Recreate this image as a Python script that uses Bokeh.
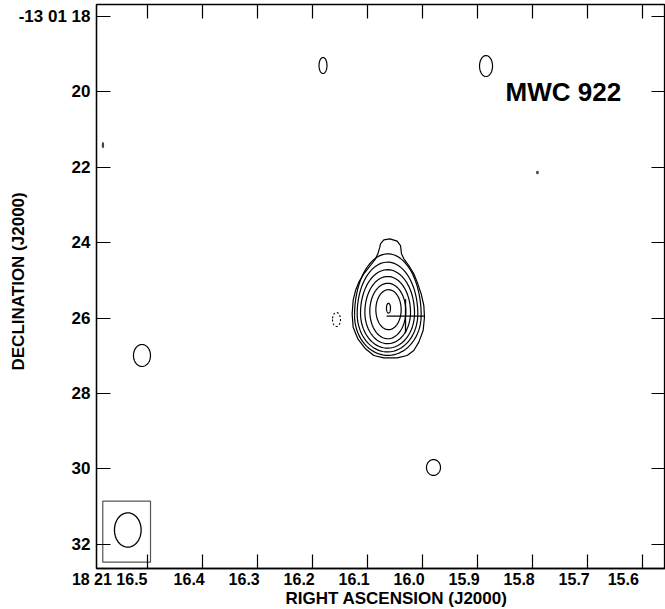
import numpy as np
from bokeh.plotting import figure
from bokeh.models import Range1d, FixedTicker, LinearAxis, Title, Label
from bokeh.embed import file_html
from bokeh.resources import INLINE

# ---- axis ticks / labels ----
ra_ticks = [16.5, 16.4, 16.3, 16.2, 16.1, 16.0, 15.9, 15.8, 15.7, 15.6]
ra_labels = ["18 21 16.5", "16.4", "16.3", "16.2", "16.1", "16.0", "15.9", "15.8", "15.7", "15.6"]
dec_ticks = [18, 20, 22, 24, 26, 28, 30, 32]
dec_labels = ["-13 01 18", "20", "22", "24", "26", "28", "30", "32"]

# ---- outermost contour of the source (RA seconds, Dec arcsec) ----
outer_ra = [16.0764, 16.0703, 16.0594, 16.0461, 16.0400, 16.0382, 16.0339, 16.0249,
            16.0158, 16.0085, 16.0024, 15.9976, 15.9964, 15.9988, 16.0067, 16.0158,
            16.0279, 16.0461, 16.0703, 16.0885, 16.1036, 16.1176, 16.1261, 16.1279,
            16.1261, 16.1218, 16.1158, 16.1067, 16.0946, 16.0855, 16.0812, 16.0776]
outer_dec = [24.035, 23.929, 23.903, 23.965, 24.080, 24.300, 24.433, 24.609,
             24.830, 25.095, 25.360, 25.669, 25.978, 26.331, 26.640, 26.861,
             26.993, 27.055, 27.055, 26.993, 26.817, 26.552, 26.243, 25.890,
             25.536, 25.272, 25.051, 24.830, 24.609, 24.433, 24.300, 24.124]

# ---- inner contours: extents ----
ring_left = [16.1236, 16.1188, 16.1127, 16.1048, 16.0958, 16.0848, 16.0655]
ring_right = [16.0024, 16.0085, 16.0145, 16.0218, 16.0303, 16.0388, 16.0582]
ring_top = [24.30, 24.52, 24.72, 24.90, 25.08, 25.25, 25.61]
ring_mid = [25.93, 25.89, 25.87, 25.85, 25.82, 25.78, 25.74]
ring_bottom = [26.99, 26.90, 26.80, 26.68, 26.55, 26.31, 25.87]

# ---- isolated positive blobs ----
blob_ra = [16.1809, 15.8845, 16.5100, 15.9800]
blob_dec = [19.311, 19.325, 26.993, 29.960]
blob_w = [0.0145, 0.0236, 0.0309, 0.0255]
blob_h = [0.424, 0.556, 0.583, 0.420]

# ---- negative (dashed) contour ----
neg_ra = [16.1564]
neg_dec = [26.04]
neg_w = [0.0145]
neg_h = [0.37]

# ---- tiny specks ----
speck_ra = [16.581, 15.791]
speck_dec = [21.42, 22.146]
speck_w = [0.002, 0.003]
speck_h = [0.13, 0.06]

# ---- beam ----
beam_ra = [16.5358]
beam_dec = [31.616]
beam_w = [0.0485]
beam_h = [0.909]
box_left, box_right, box_top, box_bottom = 16.5813, 16.4945, 30.853, 32.469

# ---- cross (star position) ----
cross_ra, cross_dec = 16.0309, 25.95
cross_dra, cross_ddec = 0.0345, 0.45

title_text = "MWC 922"
xlabel = "RIGHT ASCENSION (J2000)"
ylabel = "DECLINATION (J2000)"

FONT = "Liberation Sans"
NB = "\u00a0"


def egg(cx, half_w, top, mid, bottom, n=72):
    t = np.linspace(0, 2 * np.pi, n)
    dx = np.cos(t)
    dy = np.sin(t)
    x = cx + half_w * dx
    y = np.where(dy < 0, mid + dy * (mid - top), mid + dy * (bottom - mid))
    return list(x), list(y)


def ell(cx, cy, w, h):
    return egg(cx, w / 2.0, cy - h / 2.0, cy, cy + h / 2.0)


p = figure(width=665, height=609, output_backend="svg", toolbar_location=None,
           x_range=Range1d(16.5927, 15.5582), y_range=Range1d(32.636, 17.695),
           min_border_left=96, min_border_right=0, min_border_top=4, min_border_bottom=41)
p.xgrid.visible = False
p.ygrid.visible = False
p.outline_line_color = "black"
p.outline_line_width = 1.3
p.background_fill_color = "white"

# axes
xa = p.xaxis[0]
xa.ticker = FixedTicker(ticks=ra_ticks)
# labels sit to the left of their tick (right-aligned), padded with no-break spaces
pads = {0: 17}
xa.major_label_overrides = {t: l + NB * pads.get(i, 6) for i, (t, l) in enumerate(zip(ra_ticks, ra_labels))}
xa.major_label_standoff = 2
xa.major_label_text_font_size = "16px"
ya = p.yaxis[0]
ya.ticker = FixedTicker(ticks=dec_ticks)
ya.major_label_overrides = {t: l for t, l in zip(dec_ticks, dec_labels)}
ya.major_label_standoff = 6
ya.major_label_text_font_size = "17px"
for ax in (xa, ya):
    ax.major_label_text_font = FONT
    ax.major_label_text_font_style = "bold"
    ax.major_label_text_color = "black"
    ax.major_tick_in = 14
    ax.major_tick_out = 0
    ax.minor_tick_in = 0
    ax.minor_tick_out = 0
    ax.axis_line_color = "black"
    ax.axis_line_width = 1.3
    ax.major_tick_line_color = "black"
    ax.major_tick_line_width = 1.2

ax_top = LinearAxis(ticker=FixedTicker(ticks=ra_ticks), major_label_text_color=None,
                    major_label_standoff=0, major_tick_in=14, major_tick_out=0,
                    minor_tick_in=0, minor_tick_out=0, axis_line_color="black",
                    major_tick_line_color="black", major_tick_line_width=1.2)
p.add_layout(ax_top, "above")
ax_right = LinearAxis(ticker=FixedTicker(ticks=dec_ticks), major_label_text_color=None,
                      major_label_standoff=0, major_tick_in=14, major_tick_out=0,
                      minor_tick_in=0, minor_tick_out=0, axis_line_color="black",
                      major_tick_line_color="black", major_tick_line_width=1.2)
p.add_layout(ax_right, "right")

# axis titles
p.add_layout(Title(text=xlabel, align="left", offset=189, standoff=-4, vertical_align="top",
                   text_font=FONT, text_font_style="bold", text_font_size="17px",
                   text_color="black"), "below")
p.add_layout(Title(text=ylabel, align="left", offset=198, standoff=-24,
                   text_font=FONT, text_font_style="bold", text_font_size="17px",
                   text_color="black"), "left")

# contours
xs, ys = [], []
xs.append(outer_ra + [outer_ra[0]])
ys.append(outer_dec + [outer_dec[0]])
for l, r, t, m, b in zip(ring_left, ring_right, ring_top, ring_mid, ring_bottom):
    x, y = egg((l + r) / 2.0, (l - r) / 2.0, t, m, b)
    xs.append(x)
    ys.append(y)
for cx, cy, w, h in zip(blob_ra, blob_dec, blob_w, blob_h):
    x, y = ell(cx, cy, w, h)
    xs.append(x)
    ys.append(y)
p.multi_line(xs, ys, line_color="black", line_width=1.2)

nx, ny = [], []
for cx, cy, w, h in zip(neg_ra, neg_dec, neg_w, neg_h):
    x, y = ell(cx, cy, w, h)
    nx.append(x)
    ny.append(y)
p.multi_line(nx, ny, line_color="black", line_width=1.1, line_dash="2 2")

sx, sy = [], []
for cx, cy, w, h in zip(speck_ra, speck_dec, speck_w, speck_h):
    x, y = ell(cx, cy, w, h)
    sx.append(x)
    sy.append(y)
p.multi_line(sx, sy, line_color="#444444", line_width=1.2)

# beam
bx, by = [], []
for cx, cy, w, h in zip(beam_ra, beam_dec, beam_w, beam_h):
    x, y = ell(cx, cy, w, h)
    bx.append(x)
    by.append(y)
p.multi_line(bx, by, line_color="black", line_width=1.3)
p.quad(left=[box_left], right=[box_right], top=[box_top], bottom=[box_bottom],
       fill_alpha=0, line_color="#555555", line_width=1.2)

# cross
p.segment(x0=[cross_ra + cross_dra, cross_ra], y0=[cross_dec, cross_dec - cross_ddec],
          x1=[cross_ra - cross_dra, cross_ra], y1=[cross_dec, cross_dec + cross_ddec],
          line_color="black", line_width=1.3)

# source name
p.add_layout(Label(x=15.849, y=20.0, text=title_text, text_align="left",
                   text_baseline="alphabetic", text_font=FONT, text_font_style="bold",
                   text_font_size="26px", text_color="black"))

open("out.html", "w").write(file_html(p, INLINE))
